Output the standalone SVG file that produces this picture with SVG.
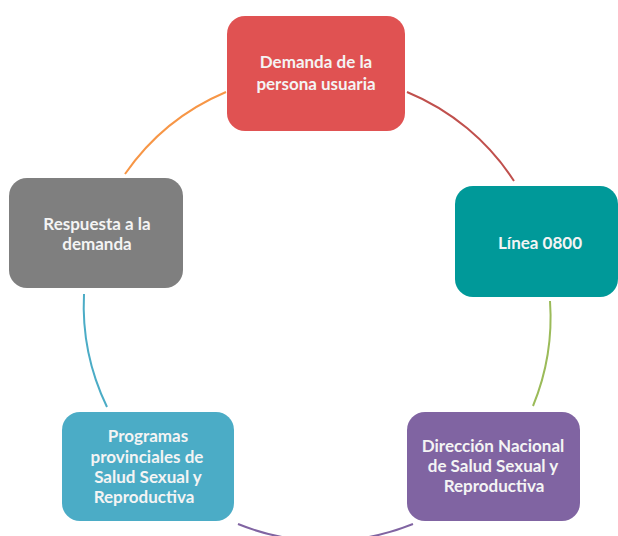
<svg xmlns="http://www.w3.org/2000/svg" width="618" height="536" viewBox="0 0 618 536">
<style>
.box{stroke:none}
.t{font-family:Lato,"Open Sans","Liberation Sans",sans-serif;font-weight:bold;font-size:17px;fill:#f4f4f4;text-anchor:middle}
.c{fill:none;stroke-width:2}
</style>
<rect width="618" height="536" fill="#ffffff"/>
<g id="connectors">
<path class="c" stroke="#c0504d" d="M407,92 A233,233 0 0,1 514,181"/>
<path class="c" stroke="#9bbb59" d="M550,301 A233,233 0 0,1 533,406"/>
<path class="c" stroke="#8064a2" d="M413,524 A233,233 0 0,1 238,524"/>
<path class="c" stroke="#4bacc6" d="M107,407 A233,233 0 0,1 84,294"/>
<path class="c" stroke="#f79646" d="M125,174 A233,233 0 0,1 226,92"/>
</g>
<g id="n1">
<rect class="box" x="227" y="16" width="178" height="115" rx="18" fill="#e05252"/>
<text class="t" x="316" y="68">Demanda de la</text>
<text class="t" x="316" y="90">persona usuaria</text>
</g>
<g id="n2">
<rect class="box" x="455" y="186" width="163" height="111" rx="18" fill="#009999"/>
<text class="t" x="540" y="249">Línea 0800</text>
</g>
<g id="n3">
<rect class="box" x="407" y="412" width="173" height="109" rx="18" fill="#8064a2"/>
<text class="t" x="493" y="452">Dirección Nacional</text>
<text class="t" x="493" y="472">de Salud Sexual y</text>
<text class="t" x="494" y="492">Reproductiva</text>
</g>
<g id="n4">
<rect class="box" x="62" y="412" width="172" height="109" rx="18" fill="#4bacc6"/>
<text class="t" x="148" y="442">Programas</text>
<text class="t" x="147" y="463">provinciales de</text>
<text class="t" x="148" y="483">Salud Sexual y</text>
<text class="t" x="144" y="503">Reproductiva</text>
</g>
<g id="n5">
<rect class="box" x="9" y="178" width="174" height="110" rx="18" fill="#7f7f7f"/>
<text class="t" x="97" y="230">Respuesta a la</text>
<text class="t" x="97" y="250">demanda</text>
</g>
</svg>
